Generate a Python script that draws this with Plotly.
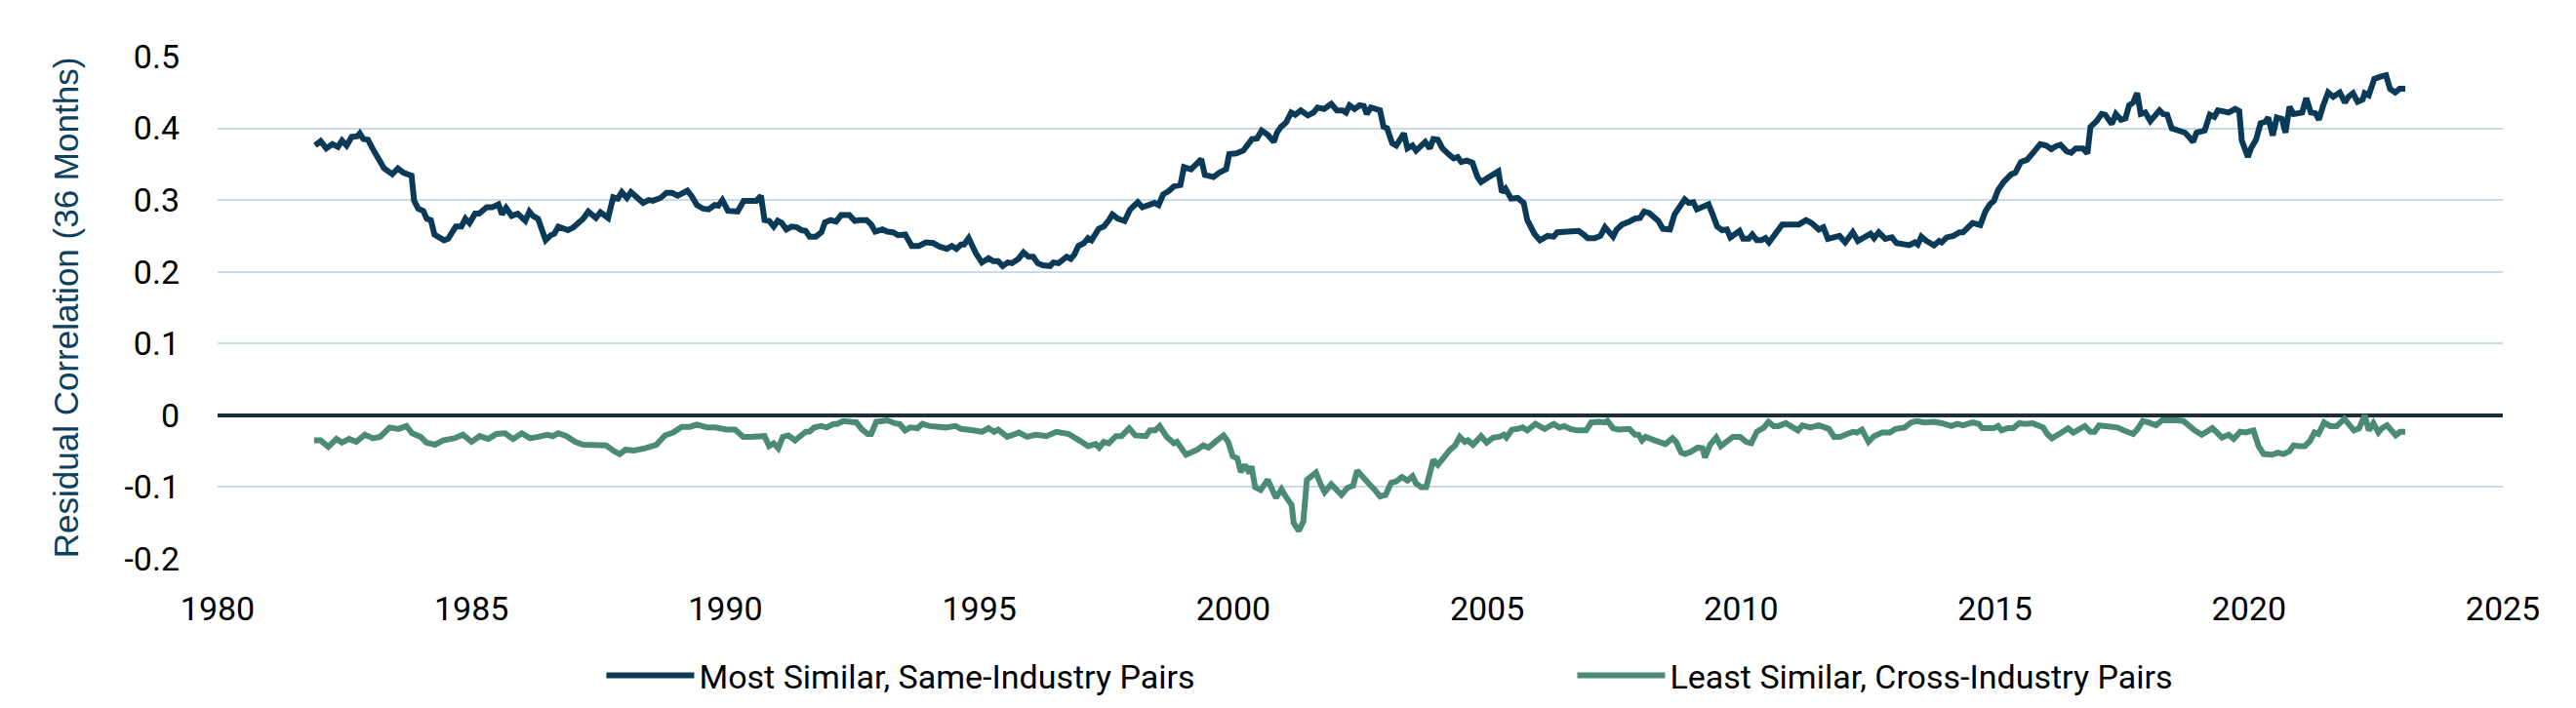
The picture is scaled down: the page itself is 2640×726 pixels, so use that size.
import plotly.graph_objects as go

# readings of the two 36-month residual correlation series (decimal year, value)
most_years = [
    1981.92, 1982.03, 1982.14, 1982.26, 1982.37, 1982.45, 1982.54, 1982.64, 1982.75, 1982.80,
    1982.87, 1982.96, 1983.09, 1983.28, 1983.44, 1983.55, 1983.66, 1983.82, 1983.87, 1983.95,
    1984.05, 1984.12, 1984.20, 1984.27, 1984.46, 1984.54, 1984.69, 1984.80, 1984.88, 1984.96,
    1985.07, 1985.15, 1985.30, 1985.41, 1985.53, 1985.60, 1985.68, 1985.79, 1985.91, 1986.06,
    1986.14, 1986.21, 1986.31, 1986.46, 1986.56, 1986.63, 1986.71, 1986.90, 1987.01, 1987.12,
    1987.20, 1987.30, 1987.45, 1987.54, 1987.69, 1987.79, 1987.88, 1987.96, 1988.06, 1988.14,
    1988.23, 1988.38, 1988.49, 1988.57, 1988.72, 1988.84, 1988.95, 1989.06, 1989.25, 1989.33,
    1989.44, 1989.56, 1989.67, 1989.79, 1989.86, 1989.94, 1990.05, 1990.24, 1990.36, 1990.51,
    1990.61, 1990.70, 1990.77, 1990.86, 1990.95, 1991.03, 1991.11, 1991.20, 1991.30, 1991.41,
    1991.50, 1991.58, 1991.66, 1991.78, 1991.89, 1991.96, 1992.07, 1992.18, 1992.28, 1992.44,
    1992.55, 1992.64, 1992.78, 1992.87, 1992.95, 1993.09, 1993.19, 1993.30, 1993.40, 1993.54,
    1993.67, 1993.81, 1993.95, 1994.09, 1994.22, 1994.36, 1994.46, 1994.55, 1994.64, 1994.70,
    1994.79, 1994.93, 1995.05, 1995.18, 1995.27, 1995.37, 1995.46, 1995.56, 1995.64, 1995.77,
    1995.87, 1995.97, 1996.06, 1996.15, 1996.25, 1996.39, 1996.46, 1996.56, 1996.72, 1996.80,
    1996.87, 1996.95, 1997.06, 1997.14, 1997.21, 1997.35, 1997.45, 1997.55, 1997.62, 1997.73,
    1997.86, 1997.97, 1998.12, 1998.21, 1998.31, 1998.45, 1998.53, 1998.62, 1998.72, 1998.83,
    1998.96, 1999.03, 1999.17, 1999.27, 1999.37, 1999.44, 1999.61, 1999.72, 1999.86, 1999.92,
    2000.06, 2000.20, 2000.37, 2000.47, 2000.56, 2000.68, 2000.80, 2000.86, 2000.94, 2001.04,
    2001.14, 2001.22, 2001.33, 2001.47, 2001.58, 2001.66, 2001.79, 2001.93, 2002.04, 2002.15,
    2002.22, 2002.29, 2002.39, 2002.49, 2002.57, 2002.63, 2002.71, 2002.89, 2002.96, 2003.03,
    2003.13, 2003.21, 2003.36, 2003.43, 2003.53, 2003.60, 2003.71, 2003.78, 2003.87, 2003.94,
    2004.03, 2004.12, 2004.24, 2004.34, 2004.42, 2004.49, 2004.60, 2004.71, 2004.81, 2004.88,
    2004.99, 2005.10, 2005.22, 2005.29, 2005.36, 2005.47, 2005.60, 2005.72, 2005.79, 2005.93,
    2006.04, 2006.19, 2006.31, 2006.38, 2006.52, 2006.66, 2006.80, 2006.90, 2006.98, 2007.12,
    2007.23, 2007.32, 2007.41, 2007.48, 2007.55, 2007.66, 2007.80, 2007.91, 2008.01, 2008.09,
    2008.19, 2008.30, 2008.37, 2008.46, 2008.60, 2008.69, 2008.80, 2008.89, 2008.97, 2009.06,
    2009.13, 2009.22, 2009.36, 2009.44, 2009.53, 2009.63, 2009.72, 2009.79, 2009.88, 2009.97,
    2010.04, 2010.15, 2010.22, 2010.31, 2010.40, 2010.48, 2010.55, 2010.67, 2010.81, 2010.97,
    2011.14, 2011.28, 2011.39, 2011.53, 2011.62, 2011.71, 2011.82, 2011.94, 2012.05, 2012.20,
    2012.30, 2012.43, 2012.55, 2012.62, 2012.71, 2012.84, 2012.97, 2013.06, 2013.19, 2013.31,
    2013.42, 2013.48, 2013.55, 2013.65, 2013.80, 2013.90, 2013.95, 2014.05, 2014.18, 2014.30,
    2014.37, 2014.56, 2014.71, 2014.81, 2014.90, 2014.98, 2015.06, 2015.17, 2015.32, 2015.40,
    2015.51, 2015.63, 2015.74, 2015.89, 2016.01, 2016.11, 2016.20, 2016.29, 2016.41, 2016.50,
    2016.59, 2016.73, 2016.82, 2016.88, 2017.00, 2017.10, 2017.17, 2017.30, 2017.38, 2017.48,
    2017.57, 2017.64, 2017.72, 2017.80, 2017.87, 2017.96, 2018.06, 2018.14, 2018.24, 2018.31,
    2018.39, 2018.48, 2018.59, 2018.74, 2018.82, 2018.90, 2018.97, 2019.13, 2019.23, 2019.32,
    2019.39, 2019.51, 2019.60, 2019.73, 2019.81, 2019.86, 2019.98, 2020.04, 2020.14, 2020.23,
    2020.32, 2020.38, 2020.47, 2020.55, 2020.65, 2020.72, 2020.80, 2020.88, 2020.97, 2021.05,
    2021.13, 2021.22, 2021.31, 2021.38, 2021.46, 2021.56, 2021.66, 2021.79, 2021.89, 2021.96,
    2022.05, 2022.14, 2022.24, 2022.28, 2022.36, 2022.47, 2022.59, 2022.70, 2022.78, 2022.88,
    2022.97, 2023.08,
]
most_vals = [
    0.376, 0.382, 0.372, 0.378, 0.374, 0.383, 0.376, 0.388, 0.389, 0.393,
    0.385, 0.384, 0.367, 0.344, 0.336, 0.344, 0.338, 0.334, 0.299, 0.288,
    0.285, 0.274, 0.272, 0.252, 0.244, 0.246, 0.263, 0.263, 0.274, 0.268,
    0.281, 0.281, 0.290, 0.290, 0.294, 0.280, 0.289, 0.278, 0.281, 0.271,
    0.284, 0.278, 0.274, 0.244, 0.251, 0.253, 0.263, 0.258, 0.262, 0.268,
    0.274, 0.284, 0.275, 0.283, 0.275, 0.304, 0.302, 0.311, 0.303, 0.311,
    0.305, 0.296, 0.300, 0.299, 0.303, 0.310, 0.310, 0.306, 0.313, 0.306,
    0.293, 0.288, 0.287, 0.293, 0.292, 0.300, 0.285, 0.284, 0.299, 0.300,
    0.299, 0.306, 0.272, 0.271, 0.263, 0.271, 0.268, 0.259, 0.263, 0.262,
    0.258, 0.257, 0.249, 0.249, 0.255, 0.269, 0.272, 0.270, 0.279, 0.279,
    0.271, 0.272, 0.272, 0.266, 0.256, 0.259, 0.256, 0.255, 0.251, 0.252,
    0.236, 0.236, 0.241, 0.240, 0.235, 0.232, 0.236, 0.232, 0.238, 0.238,
    0.247, 0.226, 0.213, 0.219, 0.215, 0.215, 0.208, 0.213, 0.212, 0.218,
    0.227, 0.221, 0.221, 0.212, 0.209, 0.208, 0.213, 0.212, 0.221, 0.218,
    0.224, 0.236, 0.240, 0.247, 0.244, 0.260, 0.263, 0.272, 0.280, 0.274,
    0.271, 0.287, 0.297, 0.290, 0.292, 0.296, 0.293, 0.308, 0.312, 0.319,
    0.321, 0.346, 0.343, 0.350, 0.357, 0.335, 0.332, 0.338, 0.343, 0.364,
    0.365, 0.369, 0.385, 0.386, 0.397, 0.391, 0.381, 0.394, 0.402, 0.408,
    0.422, 0.419, 0.425, 0.418, 0.422, 0.429, 0.427, 0.434, 0.425, 0.425,
    0.422, 0.432, 0.427, 0.432, 0.431, 0.420, 0.429, 0.425, 0.402, 0.400,
    0.379, 0.376, 0.393, 0.372, 0.376, 0.369, 0.377, 0.381, 0.372, 0.385,
    0.384, 0.372, 0.364, 0.358, 0.360, 0.353, 0.355, 0.352, 0.332, 0.325,
    0.330, 0.335, 0.340, 0.311, 0.316, 0.302, 0.303, 0.296, 0.272, 0.253,
    0.244, 0.250, 0.249, 0.255, 0.255, 0.255, 0.257, 0.252, 0.247, 0.247,
    0.250, 0.262, 0.255, 0.249, 0.259, 0.266, 0.270, 0.274, 0.275, 0.284,
    0.282, 0.275, 0.271, 0.260, 0.259, 0.280, 0.293, 0.301, 0.296, 0.297,
    0.287, 0.290, 0.294, 0.280, 0.263, 0.258, 0.259, 0.248, 0.253, 0.257,
    0.246, 0.246, 0.252, 0.244, 0.244, 0.247, 0.241, 0.253, 0.266, 0.266,
    0.266, 0.272, 0.268, 0.259, 0.262, 0.246, 0.248, 0.250, 0.241, 0.255,
    0.243, 0.248, 0.253, 0.247, 0.255, 0.246, 0.248, 0.240, 0.238, 0.237,
    0.241, 0.238, 0.249, 0.243, 0.237, 0.243, 0.241, 0.248, 0.250, 0.255,
    0.255, 0.268, 0.265, 0.284, 0.294, 0.299, 0.314, 0.325, 0.336, 0.338,
    0.353, 0.356, 0.365, 0.378, 0.376, 0.371, 0.375, 0.377, 0.368, 0.366,
    0.372, 0.372, 0.365, 0.402, 0.410, 0.420, 0.419, 0.406, 0.420, 0.412,
    0.414, 0.432, 0.436, 0.449, 0.420, 0.422, 0.410, 0.418, 0.425, 0.420,
    0.419, 0.400, 0.397, 0.394, 0.388, 0.381, 0.394, 0.397, 0.419, 0.416,
    0.425, 0.424, 0.422, 0.427, 0.424, 0.383, 0.360, 0.372, 0.384, 0.407,
    0.409, 0.415, 0.390, 0.415, 0.413, 0.394, 0.430, 0.420, 0.421, 0.422,
    0.442, 0.422, 0.421, 0.412, 0.431, 0.450, 0.444, 0.450, 0.436, 0.444,
    0.449, 0.437, 0.440, 0.449, 0.446, 0.469, 0.472, 0.474, 0.455, 0.450,
    0.455, 0.455,
]

least_years = [
    1981.90, 1982.03, 1982.18, 1982.34, 1982.45, 1982.59, 1982.73, 1982.90, 1983.06, 1983.20,
    1983.39, 1983.56, 1983.72, 1983.83, 1984.00, 1984.11, 1984.28, 1984.44, 1984.66, 1984.83,
    1985.00, 1985.16, 1985.33, 1985.49, 1985.66, 1985.82, 1985.99, 1986.15, 1986.32, 1986.49,
    1986.60, 1986.71, 1986.87, 1987.04, 1987.20, 1987.43, 1987.65, 1987.81, 1987.92, 1988.03,
    1988.20, 1988.42, 1988.64, 1988.81, 1988.97, 1989.14, 1989.30, 1989.44, 1989.64, 1989.80,
    1990.02, 1990.19, 1990.35, 1990.48, 1990.62, 1990.77, 1990.86, 1990.95, 1991.04, 1991.13,
    1991.24, 1991.37, 1991.51, 1991.58, 1991.65, 1991.75, 1991.89, 1991.99, 1992.13, 1992.20,
    1992.32, 1992.44, 1992.58, 1992.68, 1992.80, 1992.87, 1992.97, 1993.09, 1993.19, 1993.33,
    1993.43, 1993.54, 1993.64, 1993.78, 1993.88, 1994.02, 1994.19, 1994.33, 1994.53, 1994.64,
    1994.88, 1995.05, 1995.18, 1995.29, 1995.37, 1995.55, 1995.67, 1995.78, 1995.94, 1996.11,
    1996.32, 1996.52, 1996.76, 1996.90, 1996.99, 1997.14, 1997.29, 1997.36, 1997.45, 1997.55,
    1997.69, 1997.80, 1997.95, 1998.07, 1998.28, 1998.36, 1998.46, 1998.55, 1998.69, 1998.83,
    1998.89, 1999.07, 1999.20, 1999.29, 1999.41, 1999.51, 1999.68, 1999.81, 1999.90, 1999.99,
    2000.08, 2000.15, 2000.23, 2000.32, 2000.36, 2000.43, 2000.54, 2000.68, 2000.84, 2000.95,
    2001.04, 2001.15, 2001.19, 2001.29, 2001.38, 2001.45, 2001.54, 2001.63, 2001.72, 2001.80,
    2001.93, 2002.04, 2002.13, 2002.25, 2002.36, 2002.44, 2002.54, 2002.68, 2002.79, 2002.89,
    2003.00, 2003.11, 2003.21, 2003.32, 2003.43, 2003.53, 2003.60, 2003.70, 2003.80, 2003.89,
    2003.94, 2004.03, 2004.15, 2004.27, 2004.37, 2004.46, 2004.56, 2004.62, 2004.72, 2004.88,
    2004.99, 2005.12, 2005.24, 2005.33, 2005.38, 2005.49, 2005.60, 2005.70, 2005.79, 2005.95,
    2006.13, 2006.31, 2006.42, 2006.52, 2006.64, 2006.77, 2006.95, 2007.05, 2007.20, 2007.32,
    2007.37, 2007.48, 2007.59, 2007.80, 2007.91, 2007.98, 2008.05, 2008.12, 2008.30, 2008.51,
    2008.65, 2008.72, 2008.82, 2008.90, 2009.01, 2009.15, 2009.24, 2009.29, 2009.39, 2009.51,
    2009.60, 2009.72, 2009.84, 2009.98, 2010.10, 2010.20, 2010.31, 2010.45, 2010.54, 2010.64,
    2010.74, 2010.88, 2011.00, 2011.12, 2011.21, 2011.36, 2011.53, 2011.64, 2011.73, 2011.83,
    2011.95, 2012.09, 2012.20, 2012.28, 2012.38, 2012.51, 2012.62, 2012.78, 2012.93, 2013.04,
    2013.22, 2013.35, 2013.46, 2013.61, 2013.80, 2013.95, 2014.14, 2014.26, 2014.37, 2014.56,
    2014.68, 2014.75, 2014.98, 2015.06, 2015.13, 2015.25, 2015.36, 2015.48, 2015.59, 2015.74,
    2015.86, 2015.95, 2016.03, 2016.12, 2016.24, 2016.35, 2016.44, 2016.54, 2016.65, 2016.77,
    2016.88, 2016.96, 2017.05, 2017.19, 2017.32, 2017.41, 2017.53, 2017.72, 2017.81, 2017.91,
    2018.02, 2018.17, 2018.29, 2018.44, 2018.59, 2018.71, 2018.82, 2018.93, 2019.07, 2019.20,
    2019.28, 2019.37, 2019.47, 2019.60, 2019.70, 2019.83, 2019.94, 2020.09, 2020.19, 2020.29,
    2020.38, 2020.46, 2020.57, 2020.68, 2020.80, 2020.88, 2020.99, 2021.10, 2021.20, 2021.29,
    2021.37, 2021.48, 2021.60, 2021.73, 2021.88, 2021.99, 2022.07, 2022.17, 2022.28, 2022.36,
    2022.45, 2022.55, 2022.62, 2022.72, 2022.81, 2022.89, 2022.98, 2023.08,
]
least_vals = [
    -0.035, -0.035, -0.044, -0.033, -0.038, -0.033, -0.037, -0.027, -0.032, -0.030,
    -0.017, -0.019, -0.015, -0.025, -0.030, -0.038, -0.041, -0.035, -0.032, -0.027,
    -0.037, -0.029, -0.033, -0.026, -0.025, -0.033, -0.025, -0.032, -0.030, -0.027,
    -0.029, -0.025, -0.029, -0.037, -0.041, -0.042, -0.042, -0.050, -0.054, -0.048,
    -0.049, -0.046, -0.041, -0.028, -0.024, -0.016, -0.016, -0.013, -0.017, -0.017,
    -0.020, -0.020, -0.030, -0.030, -0.030, -0.029, -0.043, -0.039, -0.046, -0.030,
    -0.028, -0.035, -0.027, -0.023, -0.023, -0.017, -0.015, -0.017, -0.012, -0.012,
    -0.008, -0.009, -0.010, -0.019, -0.026, -0.026, -0.009, -0.008, -0.007, -0.011,
    -0.012, -0.021, -0.017, -0.018, -0.012, -0.015, -0.017, -0.017, -0.015, -0.019,
    -0.021, -0.023, -0.018, -0.023, -0.020, -0.030, -0.027, -0.024, -0.030, -0.027,
    -0.029, -0.023, -0.026, -0.031, -0.036, -0.043, -0.040, -0.045, -0.037, -0.039,
    -0.029, -0.029, -0.018, -0.028, -0.029, -0.021, -0.021, -0.015, -0.030, -0.039,
    -0.037, -0.055, -0.052, -0.048, -0.042, -0.045, -0.035, -0.028, -0.037, -0.057,
    -0.060, -0.079, -0.069, -0.081, -0.071, -0.100, -0.104, -0.090, -0.115, -0.103,
    -0.114, -0.125, -0.150, -0.161, -0.148, -0.090, -0.085, -0.080, -0.096, -0.107,
    -0.096, -0.105, -0.111, -0.101, -0.098, -0.077, -0.086, -0.096, -0.104, -0.113,
    -0.111, -0.094, -0.092, -0.086, -0.091, -0.085, -0.095, -0.100, -0.100, -0.079,
    -0.062, -0.069, -0.058, -0.048, -0.042, -0.030, -0.037, -0.035, -0.041, -0.029,
    -0.038, -0.031, -0.030, -0.027, -0.031, -0.020, -0.019, -0.017, -0.021, -0.012,
    -0.019, -0.012, -0.017, -0.015, -0.019, -0.021, -0.021, -0.010, -0.009, -0.010,
    -0.008, -0.018, -0.020, -0.019, -0.027, -0.027, -0.035, -0.030, -0.035, -0.040,
    -0.032, -0.037, -0.052, -0.054, -0.051, -0.045, -0.046, -0.059, -0.041, -0.031,
    -0.043, -0.037, -0.030, -0.030, -0.037, -0.039, -0.023, -0.017, -0.009, -0.015,
    -0.015, -0.011, -0.017, -0.021, -0.014, -0.017, -0.014, -0.017, -0.019, -0.030,
    -0.030, -0.026, -0.023, -0.024, -0.020, -0.037, -0.029, -0.024, -0.024, -0.019,
    -0.017, -0.010, -0.008, -0.010, -0.009, -0.011, -0.015, -0.012, -0.014, -0.010,
    -0.012, -0.018, -0.018, -0.015, -0.021, -0.018, -0.018, -0.011, -0.012, -0.011,
    -0.015, -0.017, -0.026, -0.032, -0.027, -0.023, -0.018, -0.024, -0.019, -0.015,
    -0.023, -0.023, -0.014, -0.015, -0.017, -0.017, -0.021, -0.026, -0.019, -0.008,
    -0.010, -0.014, -0.007, -0.006, -0.007, -0.008, -0.015, -0.021, -0.027, -0.021,
    -0.018, -0.024, -0.031, -0.027, -0.033, -0.023, -0.024, -0.021, -0.043, -0.054,
    -0.054, -0.055, -0.052, -0.054, -0.050, -0.042, -0.043, -0.043, -0.036, -0.024,
    -0.026, -0.010, -0.015, -0.015, -0.005, -0.014, -0.021, -0.018, -0.000, -0.021,
    -0.011, -0.024, -0.018, -0.014, -0.021, -0.028, -0.023, -0.023,
]

y_ticks = [0.5, 0.4, 0.3, 0.2, 0.1, 0, -0.1, -0.2]
y_labels = ["0.5", "0.4", "0.3", "0.2", "0.1", "0", "-0.1", "-0.2"]
x_ticks = [1980, 1985, 1990, 1995, 2000, 2005, 2010, 2015, 2020, 2025]

NAVY = "#0a3a57"
GREEN = "#4a8a77"
TICK_FONT = dict(family="Roboto, Arial, sans-serif", size=34, color="#000000")

fig = go.Figure()
fig.add_trace(go.Scatter(x=most_years, y=most_vals, mode="lines",
                         name="Most Similar, Same-Industry Pairs",
                         line=dict(color=NAVY, width=6)))
fig.add_trace(go.Scatter(x=least_years, y=least_vals, mode="lines",
                         name="Least Similar, Cross-Industry Pairs",
                         line=dict(color=GREEN, width=6)))

fig.update_layout(
    width=2640, height=726,
    margin=dict(l=215, r=83, t=50, b=149),
    paper_bgcolor="white", plot_bgcolor="white",
    font=TICK_FONT,
    showlegend=True,
    legend=dict(orientation="h", x=0.168, xanchor="left", y=-0.233, yanchor="middle",
                font=TICK_FONT, itemwidth=90, entrywidth=890, entrywidthmode="pixels",
                bgcolor="rgba(0,0,0,0)"),
    xaxis=dict(range=[1980, 2025], tickvals=x_ticks, showgrid=False, zeroline=False,
               showline=False, ticks="", ticklabelstandoff=28, tickfont=TICK_FONT),
    yaxis=dict(range=[-0.2, 0.5], tickvals=y_ticks, ticktext=y_labels,
               showgrid=True, gridcolor="#c8dce7", gridwidth=2,
               zeroline=True, zerolinecolor="#1c2e37", zerolinewidth=4,
               showline=False, ticks="", ticklabelstandoff=38, tickfont=TICK_FONT,
               title=dict(text="Residual Correlation (36 Months)", standoff=36,
                          font=dict(family="Liberation Sans, Arial, sans-serif",
                                    size=35, color="#0d3f5f"))),
)

fig.write_html("out.html")
